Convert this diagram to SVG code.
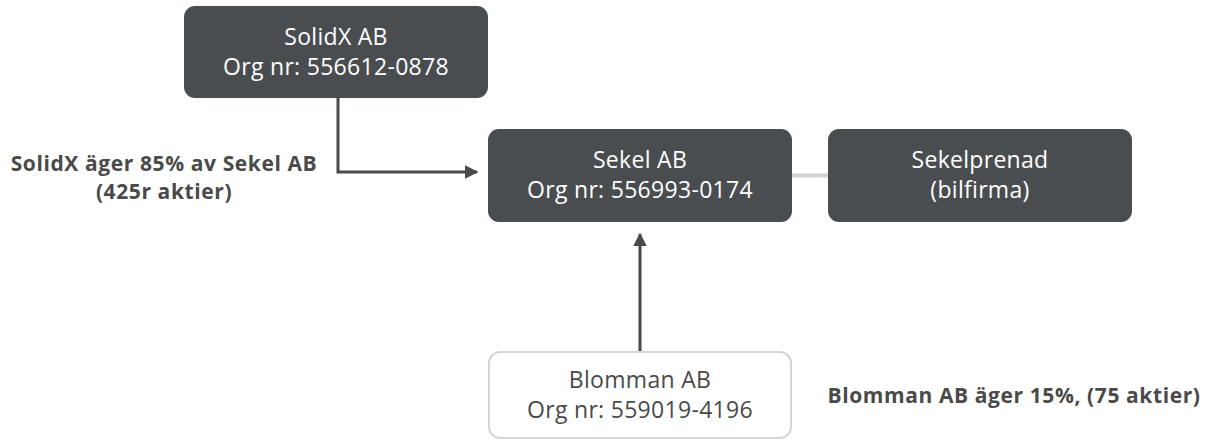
<svg xmlns="http://www.w3.org/2000/svg" width="1206" height="441" viewBox="0 0 1206 441">
<style>
.dark{fill:#4a4d50;}
.light{fill:#ffffff;stroke:#d6d6d6;stroke-width:2;}
.t{font-family:"Open Sans","Liberation Sans",sans-serif;font-size:23px;letter-spacing:0.3px;text-anchor:middle;}
.tw{fill:#ffffff;}
.tg{fill:#4a4a4a;}
.lbl{font-family:"Open Sans","Liberation Sans",sans-serif;font-size:21px;letter-spacing:0.6px;font-weight:bold;fill:#4a4a4a;text-anchor:middle;}
.conn{fill:none;stroke:#4a4a4a;stroke-width:3;}
</style>
<defs>
<marker id="arr" viewBox="0 0 10 10" refX="9" refY="5" markerWidth="4.5" markerHeight="4.5" orient="auto" markerUnits="strokeWidth">
<path d="M0,0 L10,5 L0,10 z" fill="#4a4a4a"/>
</marker>
</defs>
<rect width="1206" height="441" fill="#ffffff"/>
<g id="connectors">
<path class="conn" d="M338,98 V172 H477" marker-end="url(#arr)"/>
<path class="conn" d="M640,351 V234" marker-end="url(#arr)"/>
<line x1="792" y1="175.5" x2="828" y2="175.5" stroke="#d3d3d3" stroke-width="4"/>
</g>
<g id="solidx">
<rect class="dark" x="184" y="6" width="304" height="92" rx="11"/>
<text class="t tw" x="336" y="45">SolidX AB</text>
<text class="t tw" x="336" y="75">Org nr: 556612-0878</text>
</g>
<g id="sekel">
<rect class="dark" x="488" y="129" width="304" height="93" rx="11"/>
<text class="t tw" x="640" y="168">Sekel AB</text>
<text class="t tw" x="640" y="198">Org nr: 556993-0174</text>
</g>
<g id="sekelprenad">
<rect class="dark" x="828" y="129" width="304" height="93" rx="11"/>
<text class="t tw" x="980" y="168">Sekelprenad</text>
<text class="t tw" x="980" y="198">(bilfirma)</text>
</g>
<g id="blomman">
<rect class="light" x="489" y="352" width="302" height="86" rx="11"/>
<text class="t tg" x="640" y="388">Blomman AB</text>
<text class="t tg" x="640" y="418">Org nr: 559019-4196</text>
</g>
<g id="labels">
<text class="lbl" x="164" y="171">SolidX äger 85% av Sekel AB</text>
<text class="lbl" x="164" y="199">(425r aktier)</text>
<text class="lbl" x="1014" y="403">Blomman AB äger 15%, (75 aktier)</text>
</g>
</svg>
